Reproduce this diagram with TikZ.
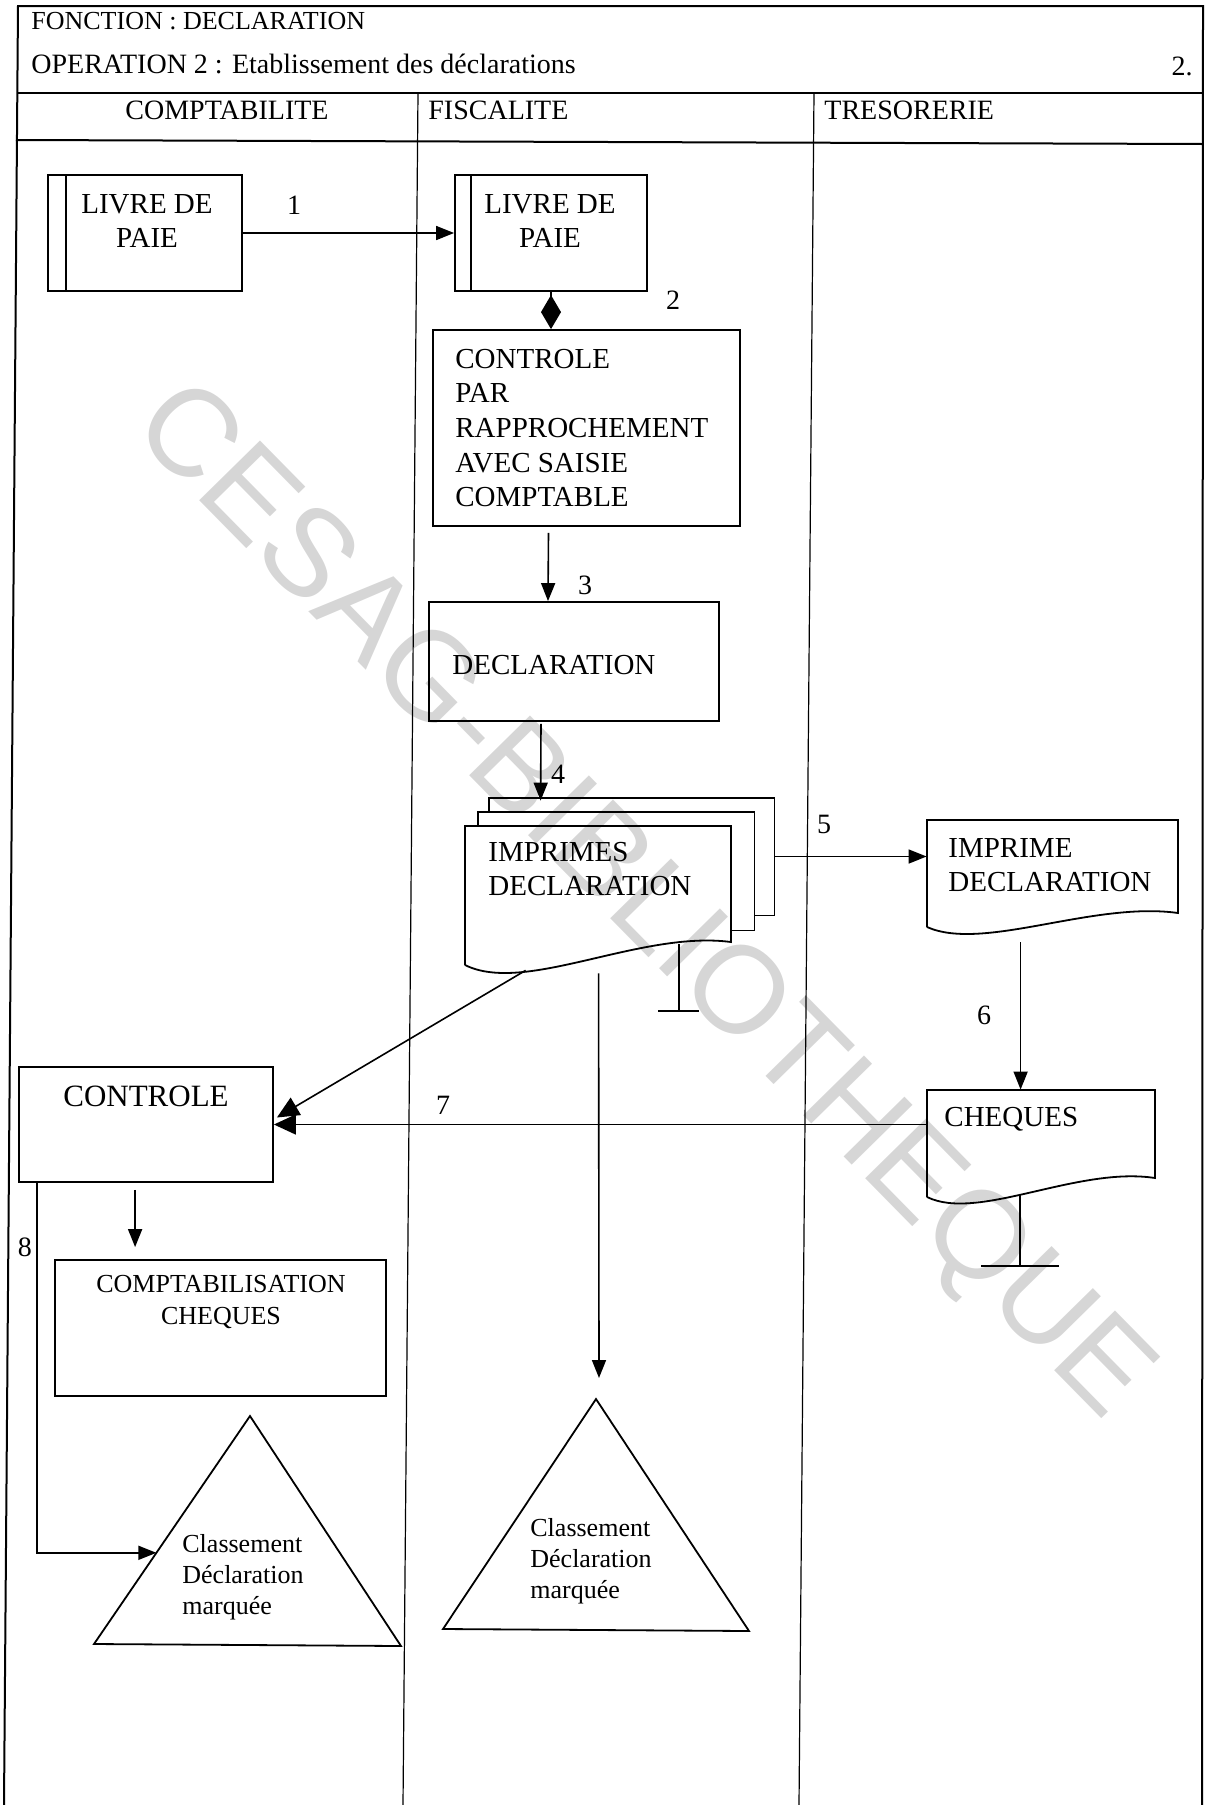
\documentclass[tikz,border=0pt]{standalone}
\usepackage{fontspec}
\setmainfont{Liberation Serif}
\newfontfamily\wmfont{Liberation Sans}
\usetikzlibrary{arrows.meta,calc,fit}

\tikzset{
  frame/.style={line width=1pt},
  lane/.style={line width=0.6pt},
  box/.style={draw, line width=0.9pt, inner sep=0pt},
  slot/.style={inner sep=0pt},
  conn/.style={line width=0.8pt},
  arr/.style={conn, -{Triangle[length=9pt,width=7pt]}},
  bigarr/.style={conn, -{Triangle[length=11pt,width=10pt]}},
  boxtext/.style={inner sep=0pt, font=\fontsize{14.5}{17.3}\selectfont},
  num/.style={inner sep=0pt, font=\fontsize{14}{16}\selectfont},
  small/.style={inner sep=0pt, font=\fontsize{13}{15.5}\selectfont},
}

\begin{document}
\begin{tikzpicture}[x=0.5pt,y=-0.5pt]
\useasboundingbox (0,0) rectangle (1211,1805);

% watermark
\node[rotate=-45.5, text=black!16, font=\wmfont\fontsize{62}{62}\selectfont] (wm) at (640,904) {CESAG-BIBLIOTHEQUE};

% page frame and swimlanes
\draw[frame] (4,1805) -- (18,6) -- (1203,6) -- (1202,1805);
\draw[frame] (17,93) -- (1203,93);
\draw[frame] (16,140) -- (1203,144);
\draw[lane] (418,93) -- (403,1805);
\draw[lane] (814,93) -- (799,1805);

\node[inner sep=0pt, anchor=west, font=\fontsize{13}{15}\selectfont] (fonction) at (31,21) {FONCTION : DECLARATION};
\node[inner sep=0pt, anchor=west, font=\fontsize{14}{16}\selectfont] (operation) at (31,64) {OPERATION 2 : Etablissement des déclarations};
\node[num] (pageno) at (1182,66) {2.};

\node[num] (lane1) at (227,110) {COMPTABILITE};
\node[num, anchor=west] (lane2) at (428,110) {FISCALITE};
\node[num, anchor=west] (lane3) at (824,110) {TRESORERIE};

% livre de paie (comptabilite)
\node[box, fit={(48,175) (242,291)}] (livre1) {};
\draw[box] ($(livre1.north west)+(19,0)$) -- ($(livre1.south west)+(19,0)$);
\node[boxtext, align=center] (livre1t) at (147,221) {LIVRE DE\\PAIE};

% livre de paie (fiscalite)
\node[box, fit={(455,175) (647,291)}] (livre2) {};
\draw[box] ($(livre2.north west)+(17,0)$) -- ($(livre2.south west)+(17,0)$);
\node[boxtext, align=center] (livre2t) at (550,221) {LIVRE DE\\PAIE};

\draw[arr] (livre1.east) -- (livre2.west);
\node[num] (n1) at (294,205) {1};

% controle par rapprochement
\node[box, fit={(433,330) (740,526)}] (ctl) {};
\node[boxtext, align=left, anchor=west] (ctlt) at (455,428) {CONTROLE\\PAR\\RAPPROCHEMENT\\AVEC SAISIE\\COMPTABLE};
\draw[conn, -{Diamond[length=17pt,width=10pt]}] (livre2.south) -- (livre2.south |- ctl.north);
\node[num] (n2) at (673,300) {2};

% declaration
\node[box, fit={(429,602) (719,721)}] (decl) {};
\node[boxtext, anchor=west] (declt) at (452,665) {DECLARATION};
\draw[arr] ($(ctl.south)+(-38,6)$) -- ($(decl.north)+(-26,0)$);
\node[num] (n3) at (585,585) {3};

% imprimes declaration (stack of three forms)
\node[slot, fit={(489,798) (774,915)}] (imp3) {};
\node[slot, fit={(478,812) (754,930)}] (imp2) {};
\node[slot, fit={(465,826) (731,965)}] (imp) {};
\draw[box] (imp3.west |- imp2.north) -- (imp3.north west) -- (imp3.north east) -- (imp3.south east) -- (imp2.east |- imp3.south);
\draw[box] (imp2.west |- imp.north) -- (imp2.north west) -- (imp2.north east) -- (imp2.south east) -- (imp.east |- imp2.south);
\draw[box] (465,965) -- (465,826) -- (731,826) -- (731,942) .. controls (640,930) and (525,995) .. (465,965);
\node[boxtext, align=left, anchor=west] (impt) at (488,869) {IMPRIMES\\DECLARATION};
\draw[arr] ($(decl.south)+(-33,2)$) -- ($(imp3.north west)+(52,3)$);
\node[num] (n4) at (558,774) {4};

% end mark below the forms
\coordinate (impstop) at (679,1011);
\draw[conn] (679,944) -- (impstop);
\draw[conn] ($(impstop)+(-21,0)$) -- ($(impstop)+(20,0)$);

% imprime declaration (tresorerie)
\node[slot, fit={(927,820) (1178,927)}] (impr) {};
\draw[box] (927,927) -- (927,820) -- (1178,820) -- (1178,913) .. controls (1093,901) and (983,952) .. (927,927);
\node[boxtext, align=left, anchor=west] (imprt) at (948,865) {IMPRIME\\DECLARATION};
\draw[arr] (imp3.east) -- (imp3.east -| impr.west);
\node[num] (n5) at (824,824) {5};

% cheques
\node[slot, fit={(927,1090) (1155,1197)}] (chq) {};
\draw[box] (927,1197) -- (927,1090) -- (1155,1090) -- (1155,1178) .. controls (1077,1166) and (978,1222) .. (927,1197);
\node[boxtext, anchor=west] (chqt) at (944,1119) {CHEQUES};
\draw[arr] ($(impr.south west)+(94,15)$) -- ($(chq.north west)+(94,0)$);
\node[num] (n6) at (984,1015) {6};

\coordinate (chqstop) at (1020,1266);
\draw[conn] (1020,1194) -- (chqstop);
\draw[conn] ($(chqstop)+(-39,0)$) -- ($(chqstop)+(39,0)$);

% controle (comptabilite)
\node[box, fit={(19,1067) (273,1182)}] (ctl2) {};
\node[inner sep=0pt, font=\fontsize{15.5}{18}\selectfont] (ctl2t) at (146,1096) {CONTROLE};
\draw[bigarr] (chq.west |- ctl2.east) -- (ctl2.east);
\node[num] (n7) at (443,1105) {7};
\draw[bigarr] ($(imp.south west)+(61,5)$) -- ($(ctl2.east)+(3,-7)$);

% comptabilisation cheques
\node[box, fit={(55,1260) (386,1396)}] (cpt) {};
\node[small, align=center, font=\fontsize{13}{16}\selectfont] (cptt) at (221,1302) {COMPTABILISATION\\CHEQUES};
\draw[arr] ($(ctl2.south west)+(117,7)$) -- ($(cpt.north west)+(81,-12)$);

% classement (comptabilite)
\coordinate (t1a) at (250,1416);
\coordinate (t1b) at (94,1644);
\coordinate (t1c) at (401,1646);
\draw[box] (t1a) -- (t1b) -- (t1c) -- cycle;
\node[small, align=left, anchor=west] (t1t) at (182,1577) {Classement\\Déclaration\\marquée};
\draw[arr] ($(ctl2.south west)+(19,0)$) |- ($(t1a)!0.6!(t1b)$);
\node[num] (n8) at (25,1247) {8};

% classement (fiscalite)
\coordinate (t2a) at (596,1399);
\coordinate (t2b) at (443,1629);
\coordinate (t2c) at (749,1631);
\draw[box] (t2a) -- (t2b) -- (t2c) -- cycle;
\node[small, align=left, anchor=west] (t2t) at (530,1561) {Classement\\Déclaration\\marquée};
\draw[arr] ($(imp.south west)+(134,8)$) -- ($(t2a)+(3,-21)$);
\end{tikzpicture}
\end{document}
